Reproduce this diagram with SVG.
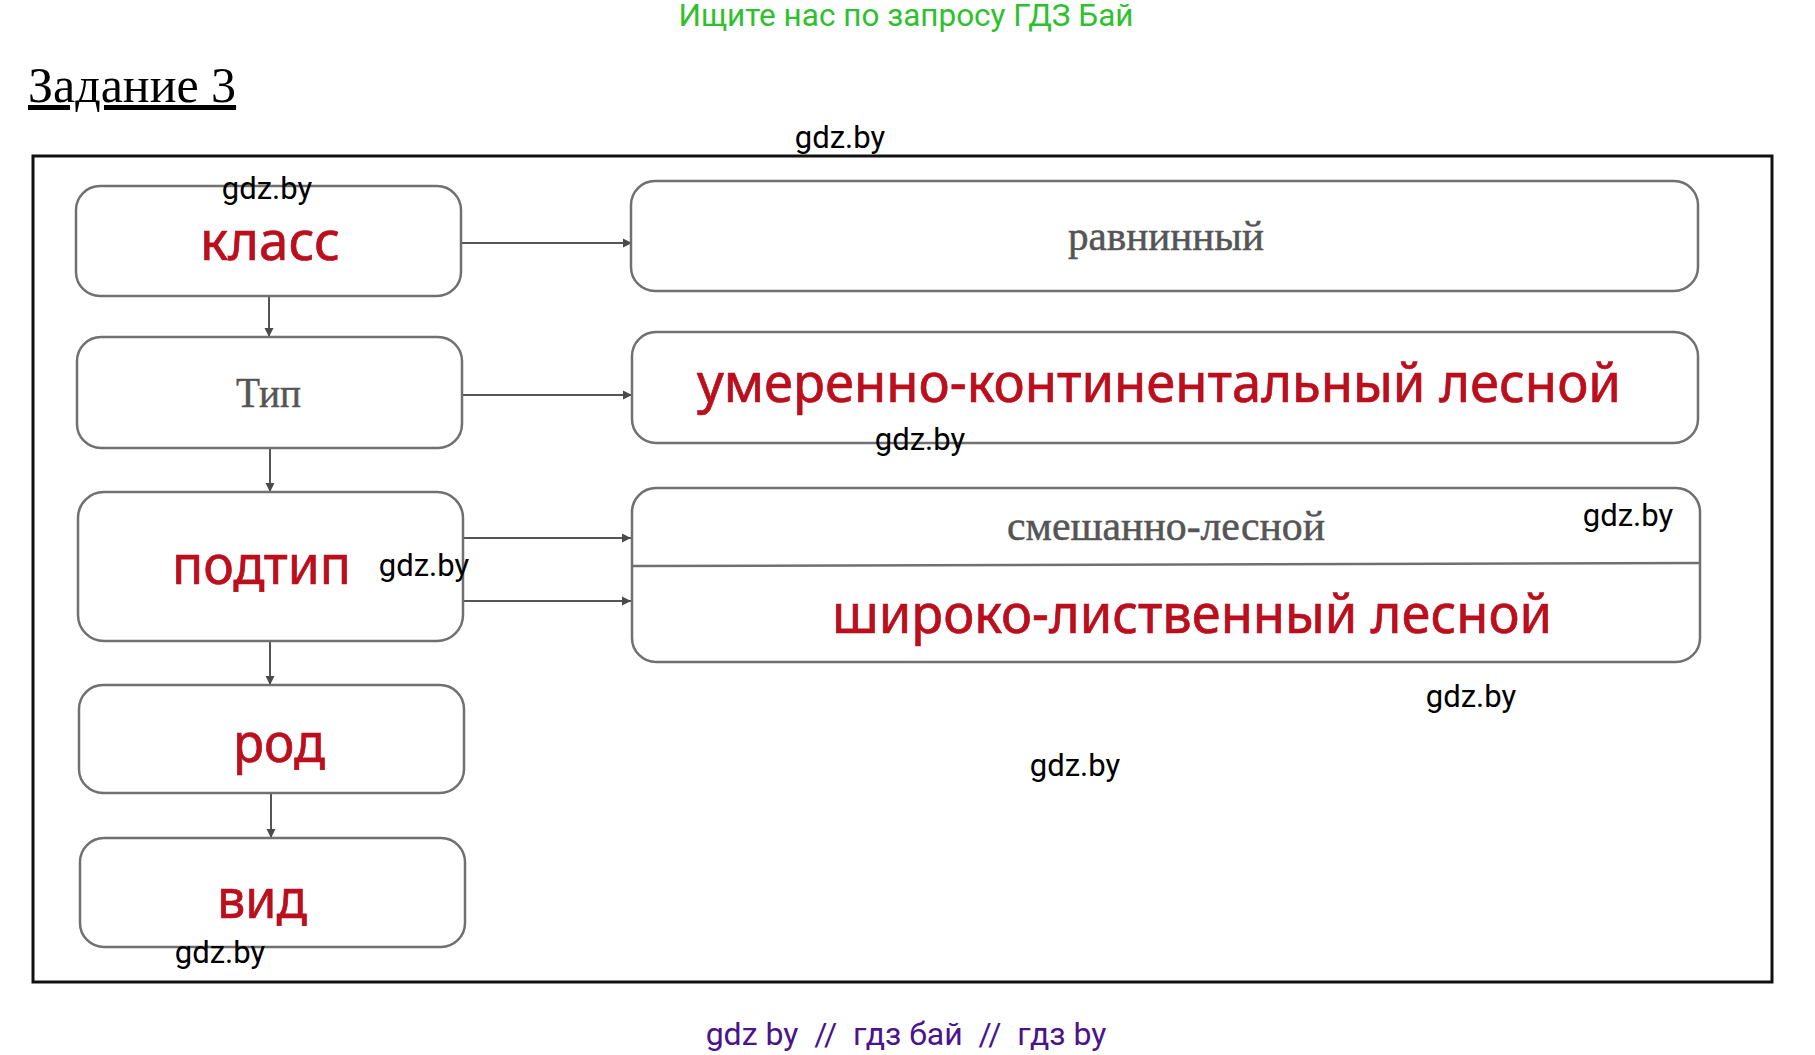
<svg xmlns="http://www.w3.org/2000/svg" width="1815" height="1055" viewBox="0 0 1815 1055">
<defs>
<marker id="ah" viewBox="0 0 10 10" refX="10" refY="5" markerWidth="9" markerHeight="10" markerUnits="userSpaceOnUse" orient="auto">
<path d="M0,0 L10,5 L0,10 z" fill="#4a4a4a"/>
</marker>
</defs>
<style>
.wm{font-family:Roboto,"Liberation Sans",sans-serif;font-size:31px;fill:#000;text-anchor:middle}
.box{fill:#fff;stroke:#707070;stroke-width:2.5}
.red{font-family:"Noto Sans","DejaVu Sans",sans-serif;font-size:54px;fill:#bb0f1d;stroke:#bb0f1d;stroke-width:0.7}
.gray{font-family:"Liberation Serif","DejaVu Serif",serif;font-size:42px;fill:#555;stroke:#555;stroke-width:0.5}
.conn{stroke:#555;stroke-width:2;fill:none;marker-end:url(#ah)}
</style>
<rect width="1815" height="1055" fill="#fff"/>
<text x="906" y="26" class="wm" style="fill:#2fc02f;font-size:31.5px">Ищите нас по запросу ГДЗ Бай</text>
<text x="28" y="102" font-family="Liberation Serif, serif" font-size="50" fill="#000" text-decoration="underline">Задание 3</text>
<rect id="frame" x="33" y="156" width="1739" height="826" fill="none" stroke="#111" stroke-width="3"/>

<g id="connectors">
<line class="conn" x1="269" y1="297" x2="269" y2="337"/>
<line class="conn" x1="270" y1="449" x2="270" y2="492"/>
<line class="conn" x1="270" y1="642" x2="270" y2="685"/>
<line class="conn" x1="271" y1="794" x2="271" y2="838"/>
<line class="conn" x1="462" y1="243" x2="632" y2="243"/>
<line class="conn" x1="463" y1="395" x2="632" y2="395"/>
<line class="conn" x1="464" y1="538" x2="631" y2="538"/>
<line class="conn" x1="464" y1="601" x2="631" y2="601"/>
</g>

<g id="node-klass">
<rect class="box" x="76" y="186" width="385" height="110" rx="24"/>
<text class="red" x="200" y="260" textLength="140" lengthAdjust="spacingAndGlyphs">класс</text>
</g>
<g id="node-tip">
<rect class="box" x="77" y="337" width="385" height="111" rx="24"/>
<text class="gray" x="236" y="407" textLength="65" lengthAdjust="spacingAndGlyphs">Тип</text>
</g>
<g id="node-podtip">
<rect class="box" x="78" y="492" width="385" height="149" rx="26"/>
<text class="red" x="172" y="584" textLength="179" lengthAdjust="spacingAndGlyphs">подтип</text>
</g>
<g id="node-rod">
<rect class="box" x="79" y="685" width="385" height="108" rx="24"/>
<text class="red" x="233" y="762" textLength="92" lengthAdjust="spacingAndGlyphs">род</text>
</g>
<g id="node-vid">
<rect class="box" x="80" y="838" width="385" height="109" rx="24"/>
<text class="red" x="217" y="918" textLength="90" lengthAdjust="spacingAndGlyphs">вид</text>
</g>

<g id="node-ravninny">
<rect class="box" x="631" y="181" width="1067" height="110" rx="24"/>
<text class="gray" x="1068" y="250" textLength="196" lengthAdjust="spacingAndGlyphs">равнинный</text>
</g>
<g id="node-umerenno">
<rect class="box" x="632" y="332" width="1066" height="111" rx="24"/>
<text class="red" x="697" y="402" textLength="924" lengthAdjust="spacingAndGlyphs">умеренно-континентальный лесной</text>
</g>
<g id="node-podtipy">
<rect class="box" x="632" y="488" width="1068" height="174" rx="24"/>
<line x1="633" y1="566" x2="1699" y2="563" stroke="#707070" stroke-width="2.5"/>
<text class="gray" x="1007" y="540" textLength="318" lengthAdjust="spacingAndGlyphs">смешанно-лесной</text>
<text class="red" x="832" y="633" textLength="720" lengthAdjust="spacingAndGlyphs">широко-лиственный лесной</text>
</g>

<g id="watermarks">
<text class="wm" x="840" y="148">gdz.by</text>
<text class="wm" x="267" y="199">gdz.by</text>
<text class="wm" x="424" y="576">gdz.by</text>
<text class="wm" x="920" y="450">gdz.by</text>
<text class="wm" x="1628" y="526">gdz.by</text>
<text class="wm" x="1471" y="707">gdz.by</text>
<text class="wm" x="1075" y="776">gdz.by</text>
<text class="wm" x="220" y="963">gdz.by</text>
</g>
<text x="906" y="1045" class="wm" style="fill:#4a148c;font-size:32px;white-space:pre">gdz by  //  гдз бай  //  гдз by</text>
</svg>
